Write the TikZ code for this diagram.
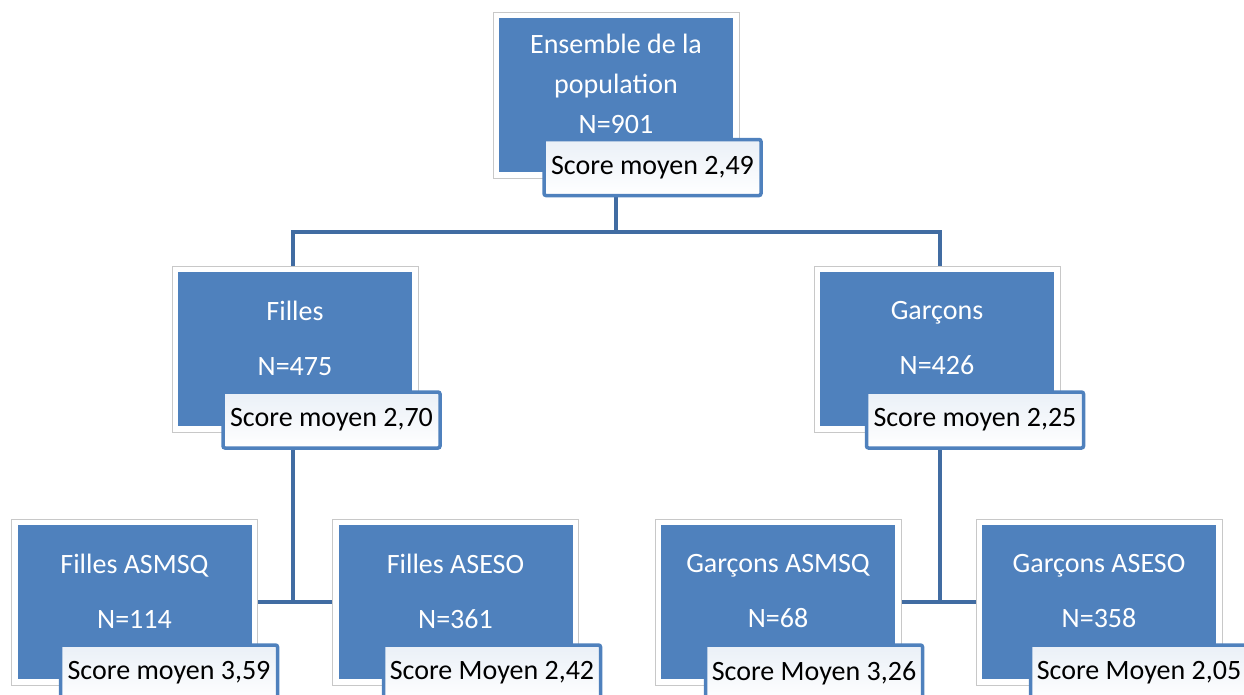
\documentclass[tikz,border=0pt]{standalone}
\usepackage{fontspec}
\setmainfont{Carlito}
\definecolor{boxblue}{RGB}{79,129,189}
\definecolor{connblue}{RGB}{65,108,162}
\definecolor{framegray}{RGB}{200,200,200}
\begin{document}
\begin{tikzpicture}[x=1pt,y=-1pt,
  frame/.style={draw=framegray,fill=white,line width=1pt,minimum width=246pt,minimum height=166pt,inner sep=0pt},
  inner/.style={fill=boxblue,minimum width=234pt,minimum height=154pt,inner sep=0pt},
  txt/.style={text=white,align=center,inner sep=0pt,font=\fontsize{28}{55}\selectfont},
  txttop/.style={text=white,align=center,inner sep=0pt,font=\fontsize{28}{40}\selectfont},
  lab/.style={draw=boxblue,line width=3.5pt,rounded corners=2pt,top color=boxblue!12,bottom color=white,minimum width=217pt,minimum height=56pt,inner sep=0pt,font=\fontsize{28}{30}\selectfont,text=black},
  conn/.style={draw=connblue,line width=4.5pt}]
\useasboundingbox (0,0) rectangle (1244,694);
\clip (0,0) rectangle (1244,694);
\coordinate (bus) at (617,232);
% frames
\node[frame] (topF) at (616,95) {};
\node[frame] (fillesF) at (295,349) {};
\node[frame] (garconsF) at (937,349) {};
\node[frame] (faF) at (134.5,602) {};
\node[frame] (fbF) at (455.5,602) {};
\node[frame] (gaF) at (778,602) {};
\node[frame] (gbF) at (1099,602) {};
% connectors
\draw[conn] (topF.south) -- (topF.south |- bus);
\draw[conn] ([xshift=-2pt]fillesF.north) -- ([xshift=-2pt]fillesF.north |- bus) -- ([xshift=3pt]garconsF.north |- bus) -- ([xshift=3pt]garconsF.north);
\draw[conn] ([xshift=-2pt]fillesF.south) -- ([xshift=-2pt]fillesF.south |- faF.east);
\draw[conn] (faF.east) -- (fbF.west);
\draw[conn] ([xshift=3pt]garconsF.south) -- ([xshift=3pt]garconsF.south |- gaF.east);
\draw[conn] (gaF.east) -- (gbF.west);
% blue boxes
\node[inner] (topB) at (topF) {};
\node[inner] (fillesB) at (fillesF) {};
\node[inner] (garconsB) at (garconsF) {};
\node[inner] (faB) at (faF) {};
\node[inner] (fbB) at (fbF) {};
\node[inner] (gaB) at (gaF) {};
\node[inner] (gbB) at (gbF) {};
% texts
\node[txttop] (topT) at (616,84) {Ensemble de la\\population\\N=901};
\node[txt] (fillesT) at (295,338) {Filles\\N=475};
\node[txt] (garconsT) at (937,338) {Garçons\\N=426};
\node[txt] (faT) at (134.5,591) {Filles ASMSQ\\N=114};
\node[txt] (fbT) at (455.5,591) {Filles ASESO\\N=361};
\node[txt] (gaT) at (778,591) {Garçons ASMSQ\\N=68};
\node[txt] (gbT) at (1099,591) {Garçons ASESO\\N=358};
% labels
\node[lab] (topL) at (652.5,167.5) {Score moyen 2,49};
\node[lab] (fillesL) at (331.5,420) {Score moyen 2,70};
\node[lab] (garconsL) at (975,420) {Score moyen 2,25};
\node[lab] (faL) at (169,673) {Score moyen 3,59};
\node[lab] (fbL) at (492,673) {Score Moyen 2,42};
\node[lab] (gaL) at (814,673) {Score Moyen 3,26};
\node[lab] (gbL) at (1139,673) {Score Moyen 2,05};
\end{tikzpicture}
\end{document}
